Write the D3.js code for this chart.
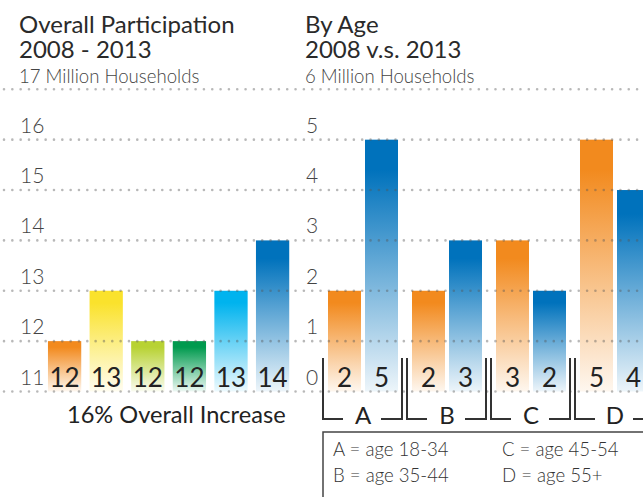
<!DOCTYPE html>
<html>
<head>
<meta charset="utf-8">
<script src="https://cdn.jsdelivr.net/npm/d3@7"></script>
<style>
  body { margin: 0; background: #fff; }
  svg { display: block; font-family: Lato, "Open Sans", sans-serif; }
</style>
</head>
<body>
<svg id="chart"></svg>
<script>
// data
var years = ['2008', '2009', '2010', '2011', '2012', '2013'];
var overallValues = [12, 13, 12, 12, 13, 14];
var overallColors = ['#f28a1e', '#fae22c', '#b8d233', '#009a4e', '#00b3ee', '#0072bc'];

var ageGroups = ['A', 'B', 'C', 'D'];
var ageSeries = ['2008', '2013'];
var age2008 = [2, 2, 3, 5];
var age2013 = [5, 3, 2, 4];
var seriesColors = ['#f28a1e', '#0072bc'];

var leftTicks = [11, 12, 13, 14, 15, 16];
var rightTicks = [0, 1, 2, 3, 4, 5];
var legendLabels = ['A = age 18-34', 'B = age 35-44', 'C = age 45-54', 'D = age 55+'];

var width = 643, height = 497;

var svg = d3.select('#chart')
    .attr('width', width)
    .attr('height', height);

var defs = svg.append('defs');

// vertical gradient: solid at top, fading to near white
function gradient(id, color) {
    var g = defs.append('linearGradient')
        .attr('id', id)
        .attr('x1', 0).attr('y1', 0).attr('x2', 0).attr('y2', 1);
    g.append('stop').attr('offset', '0%').attr('stop-color', color);
    g.append('stop').attr('offset', '12%').attr('stop-color', color);
    g.append('stop').attr('offset', '100%').attr('stop-color', d3.interpolateRgb(color, '#fff')(0.93));
    return 'url(#' + id + ')';
}

// scales
var yRight = d3.scaleLinear().domain([0, 6]).range([391.5, 89.3]);
var yLeft = d3.scaleLinear().domain([11, 17]).range([391.5, 89.3]);

var xLeft = d3.scaleBand().domain(years).range([43.8, 293.4])
    .paddingInner(0.2).paddingOuter(0.1);

var xGroup = d3.scaleBand().domain(ageGroups).range([321, 657])
    .paddingInner(1 / 6).paddingOuter(1 / 12);
var xSub = d3.scaleBand().domain(ageSeries).range([0, xGroup.bandwidth()])
    .paddingInner(4 / 37);

// titles (two-line heading as one text block, then subtitle)
function title(x, lines) {
    var t = svg.append('g');
    var head = t.append('text').attr('font-size', 24).attr('fill', '#2a2a2a');
    head.append('tspan').attr('x', x).attr('y', 33).text(lines[0]);
    head.append('tspan').attr('x', x).attr('y', 58).text(lines[1]);
    t.append('text').attr('x', x).attr('y', 83).attr('font-size', 18.6).attr('font-weight', 300).attr('fill', '#444').text(lines[2]);
}
title(19, ['Overall Participation', '2008 - 2013', '17 Million Households']);
title(305, ['By Age', '2008 v.s. 2013', '6 Million Households']);

// left bars
var left = svg.append('g');
left.selectAll('rect')
    .data(overallValues)
    .enter().append('rect')
    .attr('x', function(d, i) { return xLeft(years[i]); })
    .attr('y', function(d) { return yLeft(d); })
    .attr('width', xLeft.bandwidth())
    .attr('height', function(d) { return yLeft(11) - yLeft(d); })
    .attr('fill', function(d, i) { return gradient('gl' + i, overallColors[i]); });

left.selectAll('text.val')
    .data(overallValues)
    .enter().append('text')
    .attr('class', 'val')
    .attr('x', function(d, i) { return xLeft(years[i]) + xLeft.bandwidth() / 2; })
    .attr('y', 387)
    .attr('text-anchor', 'middle')
    .attr('font-size', 26)
    .attr('fill', '#222')
    .text(function(d) { return d; });

// right bars
var right = svg.append('g');
ageGroups.forEach(function(g, gi) {
    var vals = [age2008[gi], age2013[gi]];
    vals.forEach(function(v, si) {
        var x = xGroup(g) + xSub(ageSeries[si]);
        right.append('rect')
            .attr('x', x)
            .attr('y', yRight(v))
            .attr('width', xSub.bandwidth())
            .attr('height', yRight(0) - yRight(v))
            .attr('fill', gradient('gr' + gi + si, seriesColors[si]));
        right.append('text')
            .attr('x', x + xSub.bandwidth() / 2)
            .attr('y', 387)
            .attr('text-anchor', 'middle')
            .attr('font-size', 26)
            .attr('fill', '#222')
            .text(v);
    });
});

// dotted gridlines, drawn over the bars
var grid = svg.append('g');
grid.selectAll('line')
    .data(d3.range(0, 7))
    .enter().append('line')
    .attr('x1', 4).attr('x2', width)
    .attr('y1', function(d) { return yRight(d); })
    .attr('y2', function(d) { return yRight(d); })
    .attr('stroke', '#555')
    .attr('stroke-opacity', 0.42)
    .attr('stroke-width', 2.6)
    .attr('stroke-linecap', 'round')
    .attr('stroke-dasharray', '0,8.33');

// tick labels
svg.append('g').selectAll('text')
    .data(leftTicks)
    .enter().append('text')
    .attr('x', 20)
    .attr('y', function(d) { return yLeft(d) - 7; })
    .attr('font-size', 21)
    .attr('font-weight', 300)
    .attr('fill', '#444')
    .text(function(d) { return d; });

svg.append('g').selectAll('text')
    .data(rightTicks)
    .enter().append('text')
    .attr('x', 306)
    .attr('y', function(d) { return yRight(d) - 7; })
    .attr('font-size', 21)
    .attr('font-weight', 300)
    .attr('fill', '#444')
    .text(function(d) { return d; });

svg.append('text')
    .attr('x', 67).attr('y', 423)
    .attr('font-size', 23.6)
    .attr('fill', '#222')
    .text('16% Overall Increase');

// brackets under the age groups
var brackets = svg.append('g');
ageGroups.forEach(function(g) {
    var x0 = xGroup(g) - 5, x1 = xGroup(g) + xGroup.bandwidth() + 4;
    var cx = xGroup(g) + xGroup.bandwidth() / 2;
    brackets.append('path')
        .attr('d', 'M' + x0 + ',358V419H' + (cx - 20) + 'M' + (cx + 18) + ',419H' + x1 + 'V358')
        .attr('fill', 'none')
        .attr('stroke', '#333')
        .attr('stroke-width', 2);
    brackets.append('text')
        .attr('x', cx).attr('y', 424)
        .attr('text-anchor', 'middle')
        .attr('font-size', 24)
        .attr('fill', '#222')
        .text(g);
});

// legend box
var legend = svg.append('g');
legend.append('rect')
    .attr('x', 323).attr('y', 432)
    .attr('width', 400).attr('height', 100)
    .attr('fill', 'none')
    .attr('stroke', '#444')
    .attr('stroke-width', 1.5);
legend.selectAll('text')
    .data(legendLabels)
    .enter().append('text')
    .attr('x', function(d, i) { return i < 2 ? 333 : 502; })
    .attr('y', function(d, i) { return i % 2 === 0 ? 456 : 482; })
    .attr('font-size', 18.6)
    .attr('font-weight', 300)
    .attr('fill', '#333')
    .text(function(d) { return d; });
</script>
</body>
</html>
